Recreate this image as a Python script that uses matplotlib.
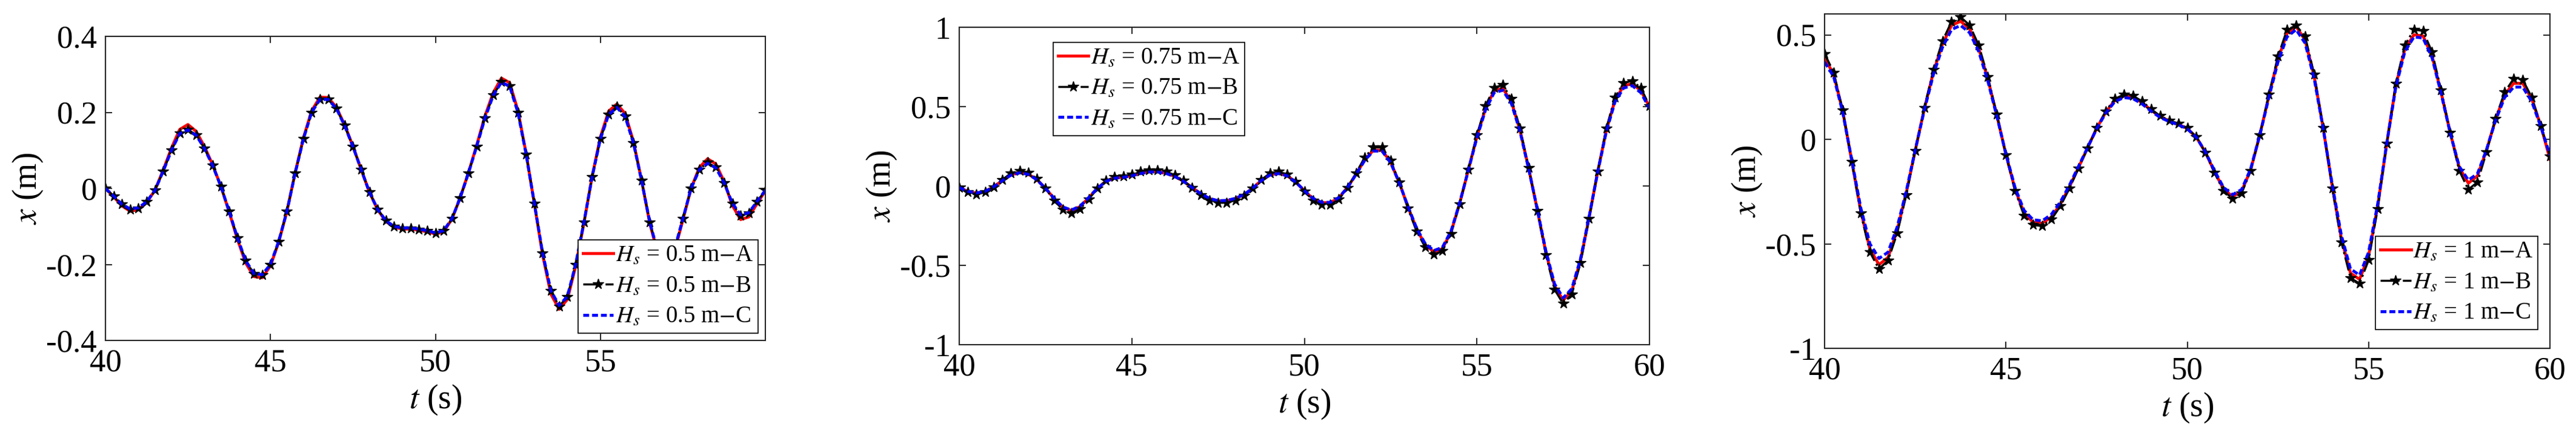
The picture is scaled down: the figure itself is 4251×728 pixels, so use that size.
import numpy as np
import matplotlib
matplotlib.use("Agg")
import matplotlib.pyplot as plt

plt.rcParams['font.family'] = ['Liberation Serif', 'DejaVu Serif']
plt.rcParams['mathtext.fontset'] = 'stix'

t = np.arange(40, 60.001, 0.25)

# Panel 1 : Hs = 0.5 m
p1_A = [0.000,-0.022,-0.046,-0.060,-0.056,-0.037,-0.005,0.048,0.106,0.155,0.168,0.150,0.110,0.062,0.005,-0.062,-0.134,-0.196,-0.232,-0.235,-0.204,-0.142,-0.060,0.041,0.133,0.204,0.240,0.239,0.213,0.167,0.111,0.050,-0.010,-0.056,-0.087,-0.102,-0.107,-0.107,-0.110,-0.114,-0.120,-0.114,-0.081,-0.025,0.041,0.113,0.190,0.251,0.290,0.278,0.205,0.092,-0.041,-0.175,-0.278,-0.318,-0.292,-0.205,-0.092,0.031,0.135,0.203,0.222,0.197,0.124,0.021,-0.093,-0.175,-0.206,-0.165,-0.083,0.000,0.055,0.078,0.064,0.018,-0.045,-0.082,-0.075,-0.040,-0.006]
p1_B = [0.000,-0.020,-0.042,-0.055,-0.052,-0.035,-0.005,0.045,0.100,0.145,0.155,0.140,0.105,0.060,0.005,-0.060,-0.130,-0.190,-0.225,-0.228,-0.200,-0.140,-0.060,0.040,0.130,0.200,0.235,0.235,0.210,0.165,0.110,0.050,-0.010,-0.055,-0.085,-0.100,-0.105,-0.105,-0.108,-0.112,-0.118,-0.112,-0.080,-0.025,0.040,0.110,0.185,0.245,0.280,0.270,0.200,0.090,-0.040,-0.170,-0.270,-0.310,-0.285,-0.200,-0.090,0.030,0.130,0.195,0.215,0.190,0.120,0.020,-0.090,-0.170,-0.200,-0.160,-0.080,0.000,0.050,0.068,0.055,0.015,-0.040,-0.072,-0.065,-0.035,-0.005]
p1_C = [0.000,-0.020,-0.042,-0.054,-0.051,-0.035,-0.005,0.045,0.100,0.144,0.154,0.140,0.105,0.060,0.005,-0.060,-0.130,-0.190,-0.224,-0.227,-0.200,-0.140,-0.060,0.040,0.130,0.200,0.234,0.234,0.210,0.165,0.110,0.050,-0.010,-0.055,-0.085,-0.100,-0.104,-0.104,-0.107,-0.111,-0.117,-0.111,-0.080,-0.025,0.040,0.110,0.184,0.244,0.279,0.269,0.200,0.090,-0.040,-0.170,-0.269,-0.308,-0.284,-0.200,-0.090,0.030,0.130,0.194,0.213,0.189,0.120,0.020,-0.090,-0.169,-0.198,-0.159,-0.080,0.000,0.049,0.066,0.054,0.015,-0.039,-0.070,-0.064,-0.034,-0.005]

# Panel 2 : Hs = 0.75 m
p2_A = [-0.010,-0.035,-0.045,-0.035,-0.005,0.035,0.070,0.085,0.075,0.040,-0.015,-0.080,-0.135,-0.155,-0.130,-0.075,-0.015,0.030,0.050,0.055,0.065,0.080,0.090,0.090,0.080,0.060,0.030,-0.010,-0.050,-0.080,-0.095,-0.093,-0.080,-0.055,-0.015,0.035,0.070,0.080,0.065,0.025,-0.030,-0.080,-0.105,-0.105,-0.075,-0.010,0.075,0.165,0.225,0.225,0.150,0.020,-0.130,-0.270,-0.370,-0.415,-0.395,-0.290,-0.110,0.100,0.310,0.490,0.600,0.615,0.530,0.350,0.110,-0.150,-0.420,-0.630,-0.720,-0.660,-0.470,-0.200,0.090,0.350,0.540,0.630,0.645,0.600,0.500]
p2_B = [-0.012,-0.040,-0.052,-0.040,-0.006,0.040,0.080,0.097,0.085,0.045,-0.017,-0.090,-0.150,-0.172,-0.145,-0.083,-0.017,0.033,0.056,0.062,0.073,0.090,0.101,0.101,0.090,0.067,0.034,-0.011,-0.056,-0.090,-0.107,-0.105,-0.090,-0.062,-0.017,0.039,0.079,0.090,0.073,0.028,-0.034,-0.090,-0.118,-0.118,-0.084,-0.011,0.082,0.180,0.243,0.243,0.162,0.022,-0.140,-0.285,-0.385,-0.432,-0.410,-0.300,-0.114,0.104,0.320,0.505,0.620,0.637,0.548,0.362,0.114,-0.155,-0.435,-0.652,-0.742,-0.682,-0.486,-0.207,0.093,0.362,0.558,0.650,0.662,0.618,0.505]
p2_C = [-0.010,-0.034,-0.044,-0.034,-0.005,0.034,0.068,0.083,0.073,0.039,-0.015,-0.078,-0.132,-0.152,-0.127,-0.073,-0.015,0.029,0.049,0.054,0.064,0.078,0.088,0.088,0.078,0.059,0.029,-0.010,-0.049,-0.078,-0.093,-0.091,-0.078,-0.054,-0.015,0.034,0.068,0.078,0.064,0.024,-0.029,-0.078,-0.103,-0.103,-0.073,-0.010,0.073,0.162,0.220,0.220,0.147,0.020,-0.127,-0.265,-0.363,-0.407,-0.387,-0.284,-0.108,0.098,0.304,0.480,0.588,0.603,0.519,0.343,0.108,-0.147,-0.412,-0.617,-0.706,-0.647,-0.461,-0.196,0.088,0.343,0.529,0.617,0.632,0.588,0.490]

# Panel 3 : Hs = 1 m
p3_A = [0.390,0.310,0.135,-0.105,-0.345,-0.525,-0.600,-0.565,-0.435,-0.258,-0.052,0.145,0.322,0.455,0.545,0.565,0.528,0.435,0.290,0.114,-0.072,-0.238,-0.352,-0.398,-0.402,-0.372,-0.310,-0.228,-0.135,-0.041,0.052,0.129,0.186,0.207,0.202,0.176,0.140,0.109,0.088,0.072,0.052,0.010,-0.062,-0.155,-0.238,-0.274,-0.248,-0.145,0.021,0.207,0.383,0.507,0.540,0.475,0.300,0.052,-0.228,-0.476,-0.640,-0.670,-0.558,-0.320,-0.021,0.258,0.432,0.500,0.495,0.398,0.224,0.031,-0.135,-0.210,-0.175,-0.053,0.095,0.213,0.268,0.268,0.193,0.064,-0.095]
p3_B = [0.410,0.320,0.140,-0.108,-0.355,-0.540,-0.620,-0.580,-0.450,-0.268,-0.054,0.150,0.332,0.470,0.563,0.585,0.546,0.450,0.300,0.118,-0.075,-0.246,-0.364,-0.410,-0.415,-0.384,-0.320,-0.235,-0.139,-0.043,0.054,0.134,0.193,0.214,0.209,0.182,0.145,0.112,0.091,0.075,0.054,0.011,-0.064,-0.160,-0.246,-0.284,-0.257,-0.150,0.021,0.214,0.396,0.524,0.545,0.492,0.310,0.054,-0.235,-0.492,-0.663,-0.690,-0.578,-0.332,-0.021,0.268,0.450,0.525,0.519,0.417,0.235,0.032,-0.150,-0.240,-0.205,-0.062,0.100,0.225,0.290,0.285,0.200,0.065,-0.080]
p3_C = [0.370,0.300,0.130,-0.100,-0.330,-0.500,-0.570,-0.540,-0.420,-0.250,-0.050,0.140,0.310,0.440,0.525,0.545,0.510,0.420,0.280,0.110,-0.070,-0.230,-0.340,-0.385,-0.390,-0.360,-0.300,-0.220,-0.130,-0.040,0.050,0.125,0.180,0.200,0.195,0.170,0.135,0.105,0.085,0.070,0.050,0.010,-0.060,-0.150,-0.230,-0.265,-0.240,-0.140,0.020,0.200,0.370,0.490,0.525,0.460,0.290,0.050,-0.220,-0.460,-0.620,-0.650,-0.540,-0.310,-0.020,0.250,0.420,0.490,0.485,0.390,0.220,0.030,-0.130,-0.195,-0.165,-0.050,0.090,0.200,0.250,0.250,0.180,0.060,-0.075]

hs_labels = ['0.5', '0.75', '1']
panels = [(p1_A, p1_B, p1_C), (p2_A, p2_B, p2_C), (p3_A, p3_B, p3_C)]
ylims = [(-0.4, 0.4), (-1, 1), (-1, 0.6)]
yticks = [([-0.4, -0.2, 0, 0.2, 0.4], ['-0.4', '-0.2', '0', '0.2', '0.4']),
          ([-1, -0.5, 0, 0.5, 1], ['-1', '-0.5', '0', '0.5', '1']),
          ([-1, -0.5, 0, 0.5], ['-1', '-0.5', '0', '0.5'])]
xticks = [([40, 45, 50, 55], ['40', '45', '50', '55']),
          ([40, 45, 50, 55, 60], ['40', '45', '50', '55', '60']),
          ([40, 45, 50, 55, 60], ['40', '45', '50', '55', '60'])]

W, H = 4251, 728
fig = plt.figure(figsize=(W / 100, H / 100), dpi=100)
rects = [(174, 60, 1263, 562), (1583, 45, 2722, 569), (3011, 23, 4208, 575)]
leg_anchor = [((1251, 550), 'lower right'), ((1738, 70), 'upper left'), ((4188, 544), 'lower right')]

for i, (A, B, C) in enumerate(panels):
    x0, y0, x1, y1 = rects[i]
    ax = fig.add_axes([x0 / W, 1 - y1 / H, (x1 - x0) / W, (y1 - y0) / H])
    hs = hs_labels[i]
    ax.plot(t, A, color='red', lw=3.5, label=r'$H_s$ = ' + hs + ' m$-$A')
    ax.plot(t, B, color='black', ls='-.', lw=2.5, marker='*', ms=13, label=r'$H_s$ = ' + hs + ' m$-$B')
    ax.plot(t, C, color='blue', ls='--', dashes=(2, 1), lw=3.5, label=r'$H_s$ = ' + hs + ' m$-$C')
    ax.set_xlim(40, 60)
    ax.set_ylim(*ylims[i])
    ax.set_xticks(xticks[i][0], xticks[i][1])
    ax.set_yticks(yticks[i][0], yticks[i][1])
    ax.tick_params(direction='in', top=True, right=True, labelsize=38, length=8, width=1.2, pad=10)
    for s in ax.spines.values():
        s.set_linewidth(1.5)
        s.set_color('#262626')
    ax.set_xlabel(r'$t$ (s)', fontsize=40, labelpad=6)
    ax.set_ylabel(r'$x$ (m)', fontsize=40, labelpad=2)
    (ax_x, ax_y), loc = leg_anchor[i]
    leg = ax.legend(loc=loc, bbox_to_anchor=(ax_x / W, 1 - ax_y / H), bbox_transform=fig.transFigure,
                    fontsize=28, fancybox=False, framealpha=1, edgecolor='black',
                    handlelength=1.3, handletextpad=0.1, borderpad=0.2, labelspacing=0.35, borderaxespad=0)
    leg.get_frame().set_linewidth(1.2)

fig.savefig('out.png', dpi=100)
